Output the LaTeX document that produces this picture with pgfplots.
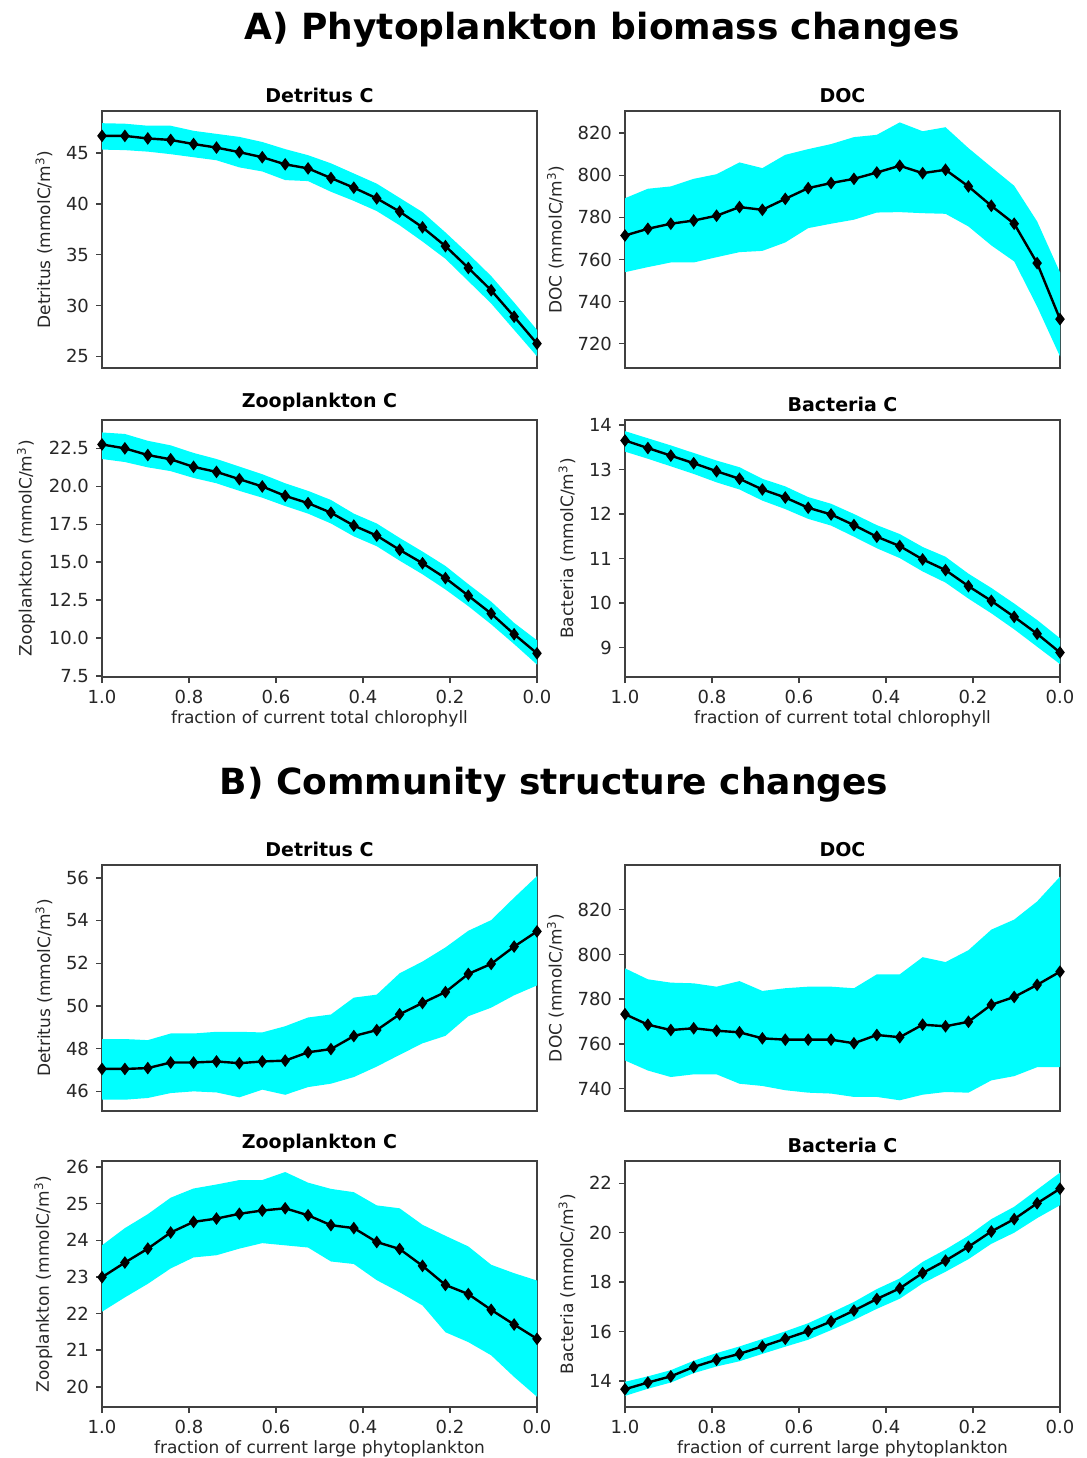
\documentclass[border=0pt]{standalone}
\usepackage{fontspec}
\setmainfont{DejaVu Sans}
\usepackage{pgfplots}
\pgfplotsset{compat=1.18}
\usepackage{pgfplotstable}
\usepgfplotslibrary{fillbetween}

\definecolor{bandcyan}{RGB}{0,255,255}

% columns: fraction, mean, lower and upper bound of the ensemble
\pgfplotstableread{
x m lo hi
1.0000 46.70 45.35 47.95
0.9474 46.70 45.30 47.90
0.8947 46.45 45.15 47.70
0.8421 46.30 44.90 47.70
0.7895 45.90 44.60 47.20
0.7368 45.55 44.30 46.90
0.6842 45.10 43.60 46.60
0.6316 44.60 43.20 46.10
0.5789 43.90 42.35 45.40
0.5263 43.50 42.25 44.80
0.4737 42.55 41.20 44.00
0.4211 41.60 40.30 43.00
0.3684 40.55 39.30 42.00
0.3158 39.25 37.90 40.60
0.2632 37.70 36.30 39.20
0.2105 35.85 34.60 37.20
0.1579 33.70 32.40 35.10
0.1053 31.50 30.20 32.90
0.0526 28.90 27.60 30.30
0.0000 26.25 25.00 27.60
}\tabAdet

\pgfplotstableread{
x m lo hi
1.0000 771.4 754.0 789.1
0.9474 774.6 756.4 793.6
0.8947 777.0 758.6 794.7
0.8421 778.5 758.6 798.3
0.7895 780.8 761.1 800.5
0.7368 784.9 763.5 806.1
0.6842 783.6 764.1 803.4
0.6316 788.8 768.1 809.7
0.5789 793.9 774.9 812.4
0.5263 796.3 777.0 814.8
0.4737 798.3 778.9 818.1
0.4211 801.3 782.3 819.2
0.3684 804.5 782.5 825.1
0.3158 801.0 782.0 820.9
0.2632 802.6 781.7 822.8
0.2105 794.7 775.7 812.9
0.1579 785.5 766.7 803.9
0.1053 777.0 759.1 795.0
0.0526 758.3 737.7 778.1
0.0000 731.7 714.0 753.9
}\tabAdoc

\pgfplotstableread{
x m lo hi
1.0000 22.76 21.80 23.55
0.9474 22.50 21.60 23.45
0.8947 22.06 21.25 23.00
0.8421 21.78 21.00 22.70
0.7895 21.28 20.55 22.20
0.7368 20.95 20.20 21.80
0.6842 20.47 19.70 21.30
0.6316 19.99 19.25 20.80
0.5789 19.37 18.70 20.20
0.5263 18.89 18.20 19.70
0.4737 18.26 17.55 19.10
0.4211 17.41 16.70 18.20
0.3684 16.75 16.05 17.55
0.3158 15.81 15.10 16.60
0.2632 14.93 14.20 15.70
0.2105 13.95 13.20 14.75
0.1579 12.79 12.10 13.55
0.1053 11.61 10.90 12.40
0.0526 10.25 9.60 11.00
0.0000 8.99 8.25 9.85
}\tabAzoo

\pgfplotstableread{
x m lo hi
1.0000 13.65 13.40 13.86
0.9474 13.48 13.24 13.70
0.8947 13.31 13.07 13.54
0.8421 13.14 12.90 13.37
0.7895 12.96 12.71 13.20
0.7368 12.79 12.55 13.05
0.6842 12.55 12.30 12.79
0.6316 12.37 12.11 12.62
0.5789 12.14 11.89 12.38
0.5263 11.99 11.74 12.23
0.4737 11.75 11.49 12.00
0.4211 11.49 11.23 11.75
0.3684 11.28 11.01 11.55
0.3158 10.98 10.71 11.26
0.2632 10.74 10.46 11.04
0.2105 10.38 10.10 10.66
0.1579 10.05 9.77 10.34
0.1053 9.69 9.41 9.99
0.0526 9.31 9.02 9.62
0.0000 8.89 8.63 9.21
}\tabAbac

\pgfplotstableread{
x m lo hi
1.0000 47.05 45.61 48.45
0.9474 47.05 45.61 48.45
0.8947 47.09 45.69 48.40
0.8421 47.35 45.92 48.71
0.7895 47.35 46.00 48.71
0.7368 47.40 45.95 48.79
0.6842 47.32 45.72 48.79
0.6316 47.40 46.08 48.76
0.5789 47.44 45.84 49.05
0.5263 47.83 46.20 49.46
0.4737 47.98 46.36 49.60
0.4211 48.59 46.67 50.39
0.3684 48.87 47.16 50.53
0.3158 49.61 47.71 51.53
0.2632 50.14 48.25 52.08
0.2105 50.65 48.60 52.74
0.1579 51.50 49.52 53.52
0.1053 51.97 49.92 54.02
0.0526 52.78 50.50 55.07
0.0000 53.49 50.96 56.08
}\tabBdet

\pgfplotstableread{
x m lo hi
1.0000 773.3 752.6 793.8
0.9474 768.6 748.1 788.9
0.8947 766.2 745.2 787.4
0.8421 767.0 746.4 787.1
0.7895 765.9 746.4 785.6
0.7368 765.2 742.2 788.1
0.6842 762.5 741.2 783.7
0.6316 761.9 739.3 784.9
0.5789 761.9 738.2 785.6
0.5263 761.9 737.8 785.6
0.4737 760.3 736.3 784.9
0.4211 764.0 736.3 791.1
0.3684 763.0 734.8 791.1
0.3158 768.6 737.3 798.8
0.2632 767.9 738.5 796.6
0.2105 769.9 738.2 801.9
0.1579 777.5 743.7 811.1
0.1053 781.0 745.6 815.6
0.0526 786.4 749.6 823.7
0.0000 792.3 749.6 834.8
}\tabBdoc

\pgfplotstableread{
x m lo hi
1.0000 22.99 22.05 23.86
0.9474 23.39 22.44 24.33
0.8947 23.77 22.81 24.71
0.8421 24.21 23.23 25.16
0.7895 24.50 23.53 25.41
0.7368 24.59 23.59 25.52
0.6842 24.72 23.77 25.64
0.6316 24.81 23.92 25.64
0.5789 24.87 23.86 25.86
0.5263 24.68 23.80 25.57
0.4737 24.41 23.42 25.40
0.4211 24.33 23.35 25.31
0.3684 23.95 22.91 24.95
0.3158 23.76 22.58 24.87
0.2632 23.30 22.22 24.42
0.2105 22.78 21.49 24.12
0.1579 22.53 21.22 23.83
0.1053 22.10 20.86 23.33
0.0526 21.70 20.27 23.10
0.0000 21.31 19.73 22.90
}\tabBzoo

\pgfplotstableread{
x m lo hi
1.0000 13.67 13.40 13.97
0.9474 13.94 13.69 14.19
0.8947 14.19 13.94 14.44
0.8421 14.57 14.32 14.82
0.7895 14.86 14.59 15.13
0.7368 15.10 14.80 15.40
0.6842 15.40 15.10 15.70
0.6316 15.71 15.39 16.01
0.5789 16.02 15.67 16.34
0.5263 16.41 16.06 16.76
0.4737 16.85 16.47 17.20
0.4211 17.32 16.92 17.72
0.3684 17.75 17.33 18.15
0.3158 18.37 17.95 18.82
0.2632 18.87 18.42 19.32
0.2105 19.43 18.93 19.88
0.1579 20.05 19.55 20.55
0.1053 20.55 20.00 21.05
0.0526 21.19 20.59 21.74
0.0000 21.78 21.11 22.43
}\tabBbac

\pgfplotsset{
  panel/.style={
    scale only axis,
    width=217.5pt,
    x dir=reverse, xmin=0, xmax=1,
    xtick={0,0.2,0.4,0.6,0.8,1},
    xticklabel style={/pgf/number format/.cd,fixed,fixed zerofill,precision=1},
    tick align=outside, xtick pos=bottom, ytick pos=left,
    major tick length=3pt,
    axis line style={black!75, line width=0.8pt},
    tick style={black!75, line width=0.7pt},
    tick label style={font=\fontsize{9}{10}\selectfont, text=black!85},
    label style={font=\fontsize{8.5}{10}\selectfont, text=black!85},
    xlabel style={yshift=3.5pt},
    title style={font=\bfseries\fontsize{9.5}{11}\selectfont, yshift=-5.5pt},
    /pgf/number format/assume math mode=true,
    anchor=north west,
  },
  toprow/.style={xtick=\empty},
  Aheight/.style={height=128.5pt},
  Bheight/.style={height=123pt},
}

% ensemble band plus mean curve
\newcommand{\ensemble}[2]{%
  \addplot[name path=#2hi, draw=none, forget plot] table[x=x,y=hi]{#1};
  \addplot[name path=#2lo, draw=none, forget plot] table[x=x,y=lo]{#1};
  \addplot[fill=bandcyan, draw=none, forget plot] fill between[of=#2hi and #2lo];
  \addplot[black, line width=1.2pt, mark=diamond*, mark size=2.2pt] table[x=x,y=m]{#1};
}

\begin{document}
\begin{tikzpicture}

\node[font=\bfseries\fontsize{18}{21}\selectfont] at (301pt,-15pt) {A) Phytoplankton biomass changes};
\node[font=\bfseries\fontsize{18}{21}\selectfont] at (277pt,-392.5pt) {B) Community structure changes};

% ---- A: phytoplankton biomass ----
\begin{axis}[panel, Aheight, toprow, at={(51pt,-55.5pt)},
  ymin=23.85, ymax=49.15, ytick={25,30,35,40,45},
  title={Detritus C}, ylabel={Detritus (mmolC/m\textsuperscript{3})}]
\ensemble{\tabAdet}{ad}
\end{axis}

\begin{axis}[panel, Aheight, toprow, at={(312.5pt,-55.5pt)},
  ymin=708.5, ymax=830.5, ytick={720,740,760,780,800,820},
  title={DOC}, ylabel={DOC (mmolC/m\textsuperscript{3})}]
\ensemble{\tabAdoc}{ao}
\end{axis}

\begin{axis}[panel, Aheight, at={(51pt,-210pt)},
  ymin=7.43, ymax=24.37, ytick={7.5,10,12.5,15,17.5,20,22.5},
  yticklabel style={/pgf/number format/.cd,fixed,fixed zerofill,precision=1},
  title={Zooplankton C}, ylabel={Zooplankton (mmolC/m\textsuperscript{3})},
  xlabel={fraction of current total chlorophyll}]
\ensemble{\tabAzoo}{az}
\end{axis}

\begin{axis}[panel, Aheight, at={(312.5pt,-210pt)},
  ymin=8.34, ymax=14.11, ytick={9,10,11,12,13,14},
  title={Bacteria C}, ylabel={Bacteria (mmolC/m\textsuperscript{3})},
  xlabel={fraction of current total chlorophyll}]
\ensemble{\tabAbac}{ab}
\end{axis}

% ---- B: community structure ----
\begin{axis}[panel, Bheight, toprow, at={(51pt,-432.5pt)},
  ymin=45.08, ymax=56.6, ytick={46,48,50,52,54,56},
  title={Detritus C}, ylabel={Detritus (mmolC/m\textsuperscript{3})}]
\ensemble{\tabBdet}{bd}
\end{axis}

\begin{axis}[panel, Bheight, toprow, at={(312.5pt,-432.5pt)},
  ymin=730, ymax=840, ytick={740,760,780,800,820},
  title={DOC}, ylabel={DOC (mmolC/m\textsuperscript{3})}]
\ensemble{\tabBdoc}{bo}
\end{axis}

\begin{axis}[panel, Bheight, at={(51pt,-580.5pt)},
  ymin=19.45, ymax=26.16, ytick={20,21,22,23,24,25,26},
  title={Zooplankton C}, ylabel={Zooplankton (mmolC/m\textsuperscript{3})},
  xlabel={fraction of current large phytoplankton}]
\ensemble{\tabBzoo}{bz}
\end{axis}

\begin{axis}[panel, Bheight, at={(312.5pt,-580.5pt)},
  ymin=12.95, ymax=22.9, ytick={14,16,18,20,22},
  title={Bacteria C}, ylabel={Bacteria (mmolC/m\textsuperscript{3})},
  xlabel={fraction of current large phytoplankton}]
\ensemble{\tabBbac}{bb}
\end{axis}

% fixed page frame
\pgfresetboundingbox
\useasboundingbox (0,0) rectangle (543.5pt,-729pt);
\end{tikzpicture}
\end{document}
